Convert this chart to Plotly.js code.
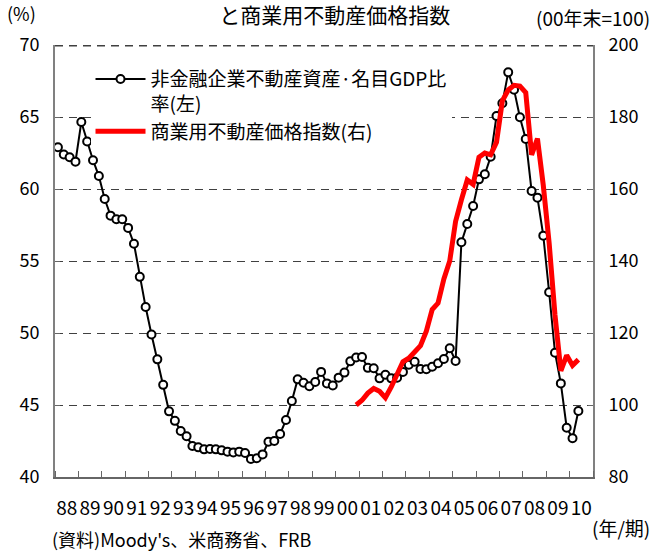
<!DOCTYPE html>
<html>
<head>
<meta charset="utf-8">
<script src="https://cdn.plot.ly/plotly-3.0.1.min.js"></script>
<style>
html,body{margin:0;padding:0;background:#fff;}
#chart{width:657px;height:551px;}
</style>
</head>
<body>
<div id="chart"></div>
<script>
// Year tick labels (quarterly data from 1988Q1)
const years = ['88','89','90','91','92','93','94','95','96','97','98','99','00','01','02','03','04','05','06','07','08','09','10'];

// 非金融企業不動産資産・名目GDP比率 (%), quarterly 1988Q1 - 2010Q2 (left axis)
const ratioNonfin = [
  62.9, 62.4, 62.2, 61.9, 64.65, 63.3, 62.0, 60.9,
  59.3, 58.15, 57.9, 57.9, 57.3, 56.2, 53.9, 51.8,
  49.9, 48.17, 46.4, 44.56, 43.9, 43.2, 42.83, 42.15,
  42.06, 41.92, 41.94, 41.92, 41.85, 41.76, 41.71, 41.76,
  41.67, 41.25, 41.3, 41.57, 42.45, 42.5, 42.99, 43.96,
  45.28, 46.78, 46.55, 46.3, 46.6, 47.3, 46.5, 46.35,
  46.9, 47.25, 48.03, 48.3, 48.33, 47.58, 47.55, 46.85,
  47.1, 46.85, 46.9, 47.3, 47.8, 48.0, 47.5, 47.48,
  47.66, 47.9, 48.2, 48.94, 48.06, 56.3, 57.57, 58.82,
  60.67, 61.02, 62.24, 65.07, 65.95, 68.1, 66.9, 64.98,
  63.47, 59.86, 59.4, 56.76, 52.83, 48.63, 46.5, 43.42,
  42.69, 44.58
];

// 商業用不動産価格指数 (2000年末=100), quarterly from 2000Q4 (right axis)
const cppiStartYear = '00';
const cppiStartQuarter = 4;
const cppi = [
  100, 101.3, 103.3, 104.6, 103.8, 102, 105, 108.5,
  112, 113, 114.8, 116.5, 120.5, 126.5, 128.3, 135,
  140, 151, 157, 162.5, 161.3, 168.8, 170, 169.5,
  173, 184.5, 187.5, 188.8, 188.6, 186.8, 169.5, 174,
  161, 145, 125, 109.5, 113.8, 111, 112.6
];

const legendNames = ['非金融企業不動産資産·名目GDP比<br>率(左)', '商業用不動産価格指数(右)'];
const leftTicks = [40, 45, 50, 55, 60, 65, 70];
const rightTicks = [80, 100, 120, 140, 160, 180, 200];

// quarter positions (0 = 1988Q1)
const xRatio = ratioNonfin.map((v, i) => i);
const cppiOffset = years.indexOf(cppiStartYear) * 4 + (cppiStartQuarter - 1);
const xCppi = cppi.map((v, i) => i + cppiOffset);
const tickPos = years.map((y, k) => k * 4 + 1.5);

const FONT = '"Noto Sans CJK JP", "Noto Sans", sans-serif';
const GRID = '#404040';

const traces = [
  {
    x: xRatio, y: ratioNonfin, name: legendNames[0],
    type: 'scatter', mode: 'lines+markers',
    line: {color: '#000000', width: 2},
    marker: {symbol: 'circle', size: 8, color: '#ffffff', line: {color: '#000000', width: 2}},
    yaxis: 'y', cliponaxis: false
  },
  {
    x: xCppi, y: cppi, name: legendNames[1],
    type: 'scatter', mode: 'lines',
    line: {color: '#ff0000', width: 5},
    yaxis: 'y2'
  }
];

const layout = {
  width: 657, height: 551,
  margin: {l: 55, r: 64, t: 45, b: 74},
  paper_bgcolor: '#ffffff', plot_bgcolor: '#ffffff',
  font: {family: FONT, size: 18, color: '#000000'},
  showlegend: true,
  title: {text: 'と商業用不動産価格指数', font: {family: FONT, size: 21, color: '#000'},
          x: 0.52, xanchor: 'center', xref: 'paper', y: 0.971, yanchor: 'middle', yref: 'container'},
  xaxis: {
    range: [-0.5, 91.5],
    tickmode: 'array', tickvals: tickPos, ticktext: years,
    ticks: '', showgrid: false, zeroline: false,
    showline: true, linecolor: '#666666', linewidth: 2,
    tickfont: {family: FONT, size: 19, color: '#000'},
    ticklabelstandoff: 13,
    minor: {tick0: -0.5, dtick: 4, ticks: 'inside', ticklen: 6, tickcolor: '#666666', tickwidth: 1, showgrid: false}
  },
  yaxis: {
    range: [leftTicks[0], leftTicks[leftTicks.length - 1]], tickmode: 'array', tickvals: leftTicks,
    ticks: 'inside', ticklen: 5, tickcolor: '#666666', tickwidth: 1,
    showline: true, linecolor: '#808080', linewidth: 2,
    showgrid: true, gridcolor: GRID, gridwidth: 1, griddash: '8px,6px',
    zeroline: false,
    tickfont: {family: FONT, size: 18, color: '#000'},
    ticklabelstandoff: 10
  },
  yaxis2: {
    range: [rightTicks[0], rightTicks[rightTicks.length - 1]], tickmode: 'array', tickvals: rightTicks,
    overlaying: 'y', side: 'right',
    ticks: 'inside', ticklen: 5, tickcolor: '#666666', tickwidth: 1,
    showline: true, linecolor: '#808080', linewidth: 2,
    showgrid: false, zeroline: false,
    tickfont: {family: FONT, size: 18, color: '#000'},
    ticklabelstandoff: 10
  },
  shapes: [
    // top dashed grid line (the 70 / 200 level)
    {type: 'line', xref: 'paper', yref: 'paper', x0: 0, x1: 1, y0: 0.998, y1: 0.998,
     line: {color: GRID, width: 1.5, dash: '8px,6px'}, layer: 'above'}
  ],
  legend: {
    x: 0.066, y: 0.965, xanchor: 'left', yanchor: 'top',
    bgcolor: '#ffffff', borderwidth: 0,
    font: {family: FONT, size: 19, color: '#000'},
    valign: 'top', tracegroupgap: 0, itemwidth: 50
  },
  annotations: [
    {text: '(%)', xref: 'paper', yref: 'paper', x: -0.093, y: 1.075, xanchor: 'left', yanchor: 'middle', showarrow: false, font: {family: FONT, size: 18}},
    {text: '(00年末=100)', xref: 'paper', yref: 'paper', x: 1.11, y: 1.063, xanchor: 'right', yanchor: 'middle', showarrow: false, font: {family: FONT, size: 19}},
    {text: '(年/期)', xref: 'paper', yref: 'paper', x: 1.11, y: -0.118, xanchor: 'right', yanchor: 'middle', showarrow: false, font: {family: FONT, size: 19}},
    {text: '(資料)Moody\'s、米商務省、FRB', xref: 'paper', yref: 'paper', x: -0.01, y: -0.143, xanchor: 'left', yanchor: 'middle', showarrow: false, font: {family: FONT, size: 18}}
  ]
};

Plotly.newPlot('chart', traces, layout, {displayModeBar: false, responsive: false});
</script>
</body>
</html>
